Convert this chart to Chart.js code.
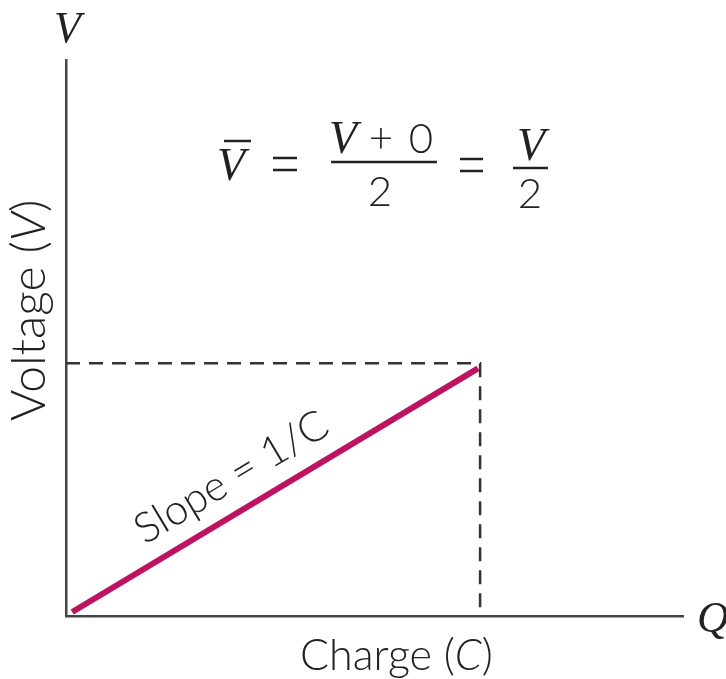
<!DOCTYPE html>
<html>
<head>
<meta charset="utf-8">
<script src="https://cdn.jsdelivr.net/npm/chart.js@4/dist/chart.umd.min.js"></script>
<style>
  html, body { margin: 0; padding: 0; background: #fff; }
  canvas { display: block; }
</style>
</head>
<body>
<canvas id="c" width="726" height="679"></canvas>
<script>
// charge and voltage in units of the final values Q and V
const qMax = 1.49;
const vMax = 2.2;
const lineQ = [0.015, 0.995];
const lineV = [0.016, 0.98];
const guideQ = [0, 1, 1];
const guideV = [1, 1, 0];

const ink = "#222";
const sans = "Lato, 'Open Sans', sans-serif";
const serif = "'Liberation Serif', 'DejaVu Serif', serif";

function pts(xs, ys) {
    return xs.map((x, i) => ({ x: x, y: ys[i] }));
}

// draw a row of text pieces starting at x
function row(ctx, parts, x, y) {
    for (const p of parts) {
        ctx.font = p.f;
        ctx.fillText(p.t, x, y);
        x += ctx.measureText(p.t).width;
    }
}

function eq(ctx, x0, x1, y) {
    ctx.beginPath();
    ctx.moveTo(x0, y - 6); ctx.lineTo(x1, y - 6);
    ctx.moveTo(x0, y + 6); ctx.lineTo(x1, y + 6);
    ctx.stroke();
}

const labels = {
    id: "labels",
    afterDraw(chart) {
        const ctx = chart.ctx;
        const xs = chart.scales.x;
        const ys = chart.scales.y;
        ctx.save();
        ctx.fillStyle = ink;
        ctx.strokeStyle = ink;
        ctx.textBaseline = "alphabetic";
        ctx.textAlign = "left";

        // axis letters
        ctx.font = "italic 44px " + serif;
        ctx.fillText("V", 54, 42);
        ctx.fillText("Q", 697, 632);

        // axis titles
        let sf = "300 43px " + sans;
        let si = "italic 300 43px " + sans;
        row(ctx, [{ t: "Charge (", f: sf }, { t: "C", f: si }, { t: ")", f: sf }], 300, 670);
        sf = "300 48px " + sans;
        si = "italic 300 48px " + sans;
        ctx.save();
        ctx.translate(45, 421);
        ctx.rotate(-Math.PI / 2);
        row(ctx, [{ t: "Voltage (", f: sf }, { t: "V", f: si }, { t: ")", f: sf }], 0, 0);
        ctx.restore();

        // slope label along the line
        const x0 = xs.getPixelForValue(lineQ[0]), y0 = ys.getPixelForValue(lineV[0]);
        const x1 = xs.getPixelForValue(lineQ[1]), y1 = ys.getPixelForValue(lineV[1]);
        const ang = Math.atan2(y1 - y0, x1 - x0);
        const t = 0.435;
        const mx = x0 + (x1 - x0) * t + Math.sin(ang) * 20;
        const my = y0 + (y1 - y0) * t - Math.cos(ang) * 20;
        ctx.save();
        ctx.translate(mx, my);
        ctx.rotate(ang);
        ctx.textAlign = "center";
        ctx.font = "300 42px " + sans;
        ctx.fillText("Slope = 1/C", 0, 0);
        ctx.restore();

        // average voltage formula
        const vi = "italic 46px " + serif;
        const nf = "300 42px " + sans;
        ctx.font = vi;
        ctx.fillText("V", 217, 180);
        ctx.lineWidth = 2.5;
        ctx.beginPath();
        ctx.moveTo(224, 141); ctx.lineTo(251, 141);
        ctx.moveTo(331, 162); ctx.lineTo(437, 162);
        ctx.moveTo(513, 168); ctx.lineTo(548, 168);
        ctx.stroke();
        eq(ctx, 273, 297, 164);
        eq(ctx, 460, 483, 165);
        ctx.textAlign = "center";
        ctx.font = nf;
        ctx.fillText("2", 380, 206);
        ctx.fillText("2", 530, 208);
        ctx.fillText("+", 381, 152);
        ctx.fillText("0", 421, 153);
        ctx.font = vi;
        ctx.fillText("V", 343, 153);
        ctx.fillText("V", 531, 160);
        ctx.restore();
    }
};

new Chart(document.getElementById("c"), {
    type: "line",
    data: {
        datasets: [
            {
                data: pts(guideQ, guideV),
                borderColor: "#333",
                borderWidth: 2.5,
                borderDash: [14, 9],
                pointRadius: 0,
                fill: false
            },
            {
                data: pts(lineQ, lineV),
                borderColor: "#BE1360",
                borderWidth: 6,
                borderCapStyle: "butt",
                pointRadius: 0,
                fill: false
            }
        ]
    },
    options: {
        responsive: false,
        animation: false,
        layout: { padding: { left: 58, top: 60, right: 43, bottom: 55 } },
        plugins: { legend: { display: false }, tooltip: { enabled: false } },
        scales: {
            x: {
                type: "linear", min: 0, max: qMax,
                grid: { display: false },
                ticks: { display: false },
                border: { display: true, color: "#444", width: 2.5 }
            },
            y: {
                type: "linear", min: 0, max: vMax,
                grid: { display: false },
                ticks: { display: false },
                border: { display: true, color: "#444", width: 2.5 }
            }
        }
    },
    plugins: [labels]
});
</script>
</body>
</html>
